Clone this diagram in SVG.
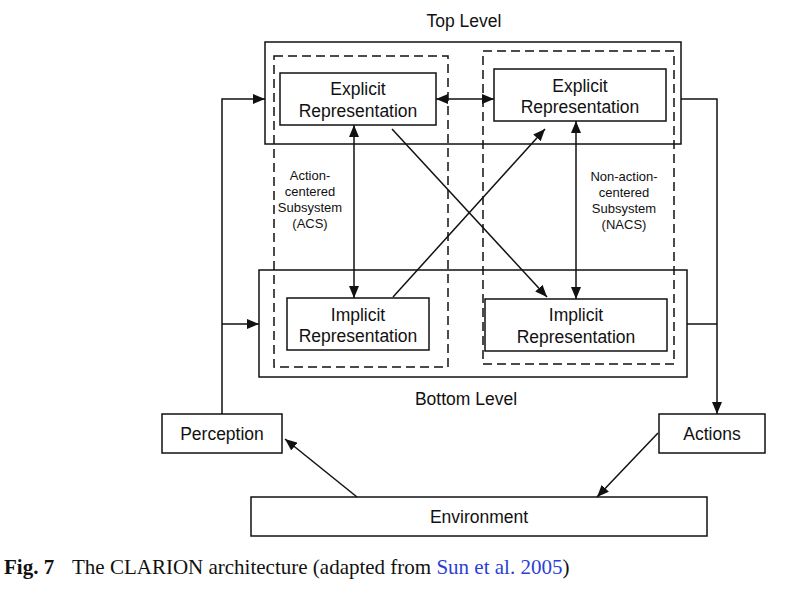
<svg xmlns="http://www.w3.org/2000/svg" width="794" height="602" viewBox="0 0 794 602">
<style>
.box{fill:#fff;stroke:#111;stroke-width:1.5}
.frame{fill:none;stroke:#111;stroke-width:1.5}
.dash{fill:none;stroke:#111;stroke-width:1.5;stroke-dasharray:9 5}
.ln{fill:none;stroke:#111;stroke-width:1.5}
.t{font-family:"Liberation Sans",Arial,sans-serif;font-size:17.5px;fill:#111;text-anchor:middle}
.s{font-family:"Liberation Sans",Arial,sans-serif;font-size:13px;fill:#111;text-anchor:middle}
.cap{font-family:"Liberation Serif","Times New Roman",serif;font-size:21px;fill:#111}
</style>
<defs>
<marker id="ah" viewBox="0 0 12 10" refX="12" refY="5" markerWidth="12" markerHeight="10" markerUnits="userSpaceOnUse" orient="auto-start-reverse">
<path d="M0,0 L12,5 L0,10 Z" fill="#111"/>
</marker>
</defs>
<rect width="794" height="602" fill="#fff"/>

<g id="top-level">
<rect class="frame" x="265" y="42" width="416" height="102"/>
<text class="t" x="464" y="27">Top Level</text>
</g>
<g id="bottom-level">
<rect class="frame" x="259" y="270" width="428" height="107"/>
<text class="t" x="466" y="405">Bottom Level</text>
</g>
<g id="acs">
<rect class="dash" x="274" y="56" width="174" height="311"/>
<text class="s" x="310" y="180">Action-</text>
<text class="s" x="310" y="196">centered</text>
<text class="s" x="310" y="212">Subsystem</text>
<text class="s" x="310" y="228">(ACS)</text>
</g>
<g id="nacs">
<rect class="dash" x="483" y="51" width="191" height="313"/>
<text class="s" x="624" y="181">Non-action-</text>
<text class="s" x="624" y="197">centered</text>
<text class="s" x="624" y="213">Subsystem</text>
<text class="s" x="624" y="229">(NACS)</text>
</g>
<g id="acs-explicit">
<rect class="box" x="280" y="73" width="156" height="52"/>
<text class="t" x="358" y="95">Explicit</text>
<text class="t" x="358" y="117">Representation</text>
</g>
<g id="nacs-explicit">
<rect class="box" x="494" y="69" width="172" height="52"/>
<text class="t" x="580" y="92">Explicit</text>
<text class="t" x="580" y="113">Representation</text>
</g>
<g id="acs-implicit">
<rect class="box" x="287" y="298" width="142" height="52"/>
<text class="t" x="358" y="321">Implicit</text>
<text class="t" x="358" y="342">Representation</text>
</g>
<g id="nacs-implicit">
<rect class="box" x="485" y="299" width="182" height="52"/>
<text class="t" x="576" y="321">Implicit</text>
<text class="t" x="576" y="343">Representation</text>
</g>
<g id="perception">
<rect class="box" x="162" y="414" width="120" height="39"/>
<text class="t" x="222" y="440">Perception</text>
</g>
<g id="actions">
<rect class="box" x="659" y="414" width="106" height="39"/>
<text class="t" x="712" y="440">Actions</text>
</g>
<g id="environment">
<rect class="box" x="251" y="497" width="456" height="39"/>
<text class="t" x="479" y="523">Environment</text>
</g>

<g id="connectors">
<line class="ln" x1="436" y1="99" x2="494" y2="99" marker-start="url(#ah)" marker-end="url(#ah)"/>
<line class="ln" x1="354" y1="125" x2="354" y2="298" marker-start="url(#ah)" marker-end="url(#ah)"/>
<line class="ln" x1="576" y1="121" x2="576" y2="299" marker-start="url(#ah)" marker-end="url(#ah)"/>
<line class="ln" x1="392" y1="129" x2="547" y2="297" marker-end="url(#ah)"/>
<line class="ln" x1="393" y1="297" x2="545" y2="129" marker-end="url(#ah)"/>
<polyline class="ln" points="222,414 222,99 265,99" marker-end="url(#ah)"/>
<line class="ln" x1="222" y1="324" x2="259" y2="324" marker-end="url(#ah)"/>
<polyline class="ln" points="681,99 717,99 717,414" marker-end="url(#ah)"/>
<line class="ln" x1="687" y1="324" x2="717" y2="324"/>
<line class="ln" x1="357" y1="497" x2="285" y2="439" marker-end="url(#ah)"/>
<line class="ln" x1="658" y1="433" x2="597" y2="497" marker-end="url(#ah)"/>
</g>

<g id="caption">
<text class="cap" x="4" y="574"><tspan font-weight="bold">Fig. 7</tspan><tspan x="72">The CLARION architecture (adapted from </tspan><tspan fill="#2b3fd6">Sun et al. 2005</tspan><tspan>)</tspan></text>
</g>
</svg>
